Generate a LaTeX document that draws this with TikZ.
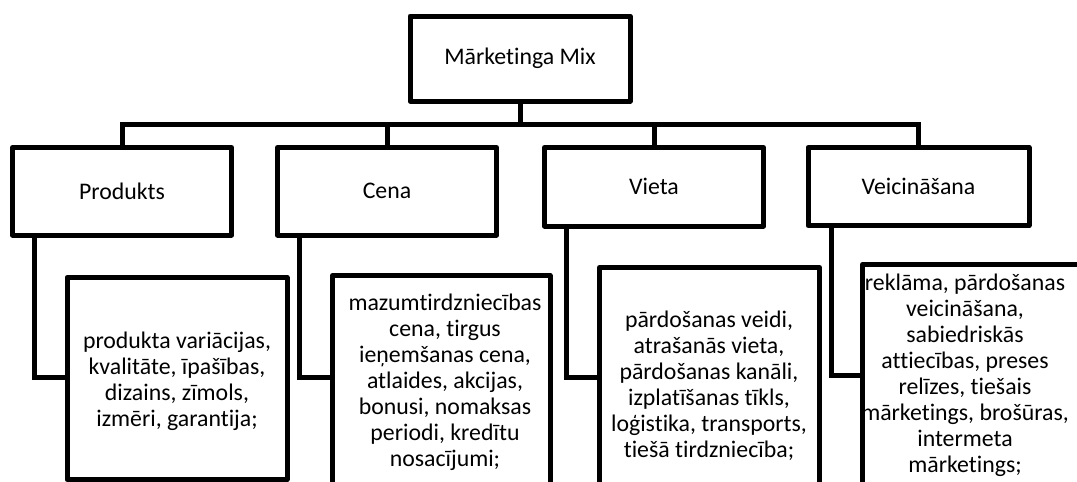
\documentclass[tikz,border=0pt]{standalone}
\usepackage{fontspec}
\setmainfont{Carlito}[Ligatures={NoCommon}]
\begin{document}
\begin{tikzpicture}[x=1pt,y=-1pt,
  every node/.style={font=\fontsize{23.8}{26}\selectfont, inner sep=0pt, outer sep=0pt},
  box/.style={draw, line width=5pt, line join=round, fill=white},
  conn/.style={line width=5pt},
  txt/.style={align=center}
]
\useasboundingbox (0,0) rectangle (1077,482);
\clip (0,0) rectangle (1077,482);
\fill[white] (0,0) rectangle (1077,482);

% top node
\node[box, minimum width=220pt, minimum height=85pt] (top) at (520,58.5) {Mārketinga Mix};

% first level
\node[box, minimum width=219pt, minimum height=87.5pt] (P) at (122,191.25) {Produkts};
\node[box, minimum width=219pt, minimum height=87.5pt] (C) at (387,191.25) {Cena};
\node[box, minimum width=219pt, minimum height=78.5pt] (V) at (654,186.75) {Vieta};
\node[box, minimum width=221pt, minimum height=78pt] (Ve) at (918.5,186.5) {Veicināšana};

% detail boxes
\node[box, minimum width=220pt, minimum height=202pt] (PD) at (177,378.5) {};
\node[box, minimum width=217.5pt, minimum height=214.5pt] (CD) at (441.25,382.75) {};
\node[box, minimum width=220pt, minimum height=232.5pt] (VD) at (709.5,383.75) {};
\node[box, minimum width=237.5pt, minimum height=219.5pt] (VeD) at (981.25,374.25) {};

% detail texts
\node[txt] (PT) at (177,381) {produkta variācijas,\\kvalitāte, īpašības,\\dizains, zīmols,\\izmēri, garantija;};
\node[txt] (CT) at (445,382) {mazumtirdzniecības\\cena, tirgus\\ieņemšanas cena,\\atlaides, akcijas,\\bonusi, nomaksas\\periodi, kredītu\\nosacījumi;};
\node[txt] (VT) at (709,386) {pārdošanas veidi,\\atrašanās vieta,\\pārdošanas kanāli,\\izplatīšanas tīkls,\\loģistika, transports,\\tiešā tirdzniecība;};
\node[txt] (VeT) at (965,375) {reklāma, pārdošanas\\veicināšana,\\sabiedriskās\\attiecības, preses\\relīzes, tiešais\\mārketings, brošūras,\\intermeta\\mārketings;};

% bus
\coordinate (bus) at (520,124);
\draw[conn] (top.south) -- (bus);
\draw[conn] (P.north) |- (bus) -| (Ve.north);
\draw[conn] (C.north) -- (C.north |- bus);
\draw[conn] (V.north) -- (V.north |- bus);

% detail connectors
\coordinate (Py) at (0,377);
\coordinate (Cy) at (0,377.5);
\coordinate (Vy) at (0,377);
\coordinate (Vey) at (0,375.5);
\draw[conn] ([xshift=21.5pt]P.south west) |- (PD.west |- Py);
\draw[conn] ([xshift=21.5pt]C.south west) |- (CD.west |- Cy);
\draw[conn] ([xshift=21.5pt]V.south west) |- (VD.west |- Vy);
\draw[conn] ([xshift=23pt]Ve.south west) |- (VeD.west |- Vey);
\end{tikzpicture}
\end{document}
